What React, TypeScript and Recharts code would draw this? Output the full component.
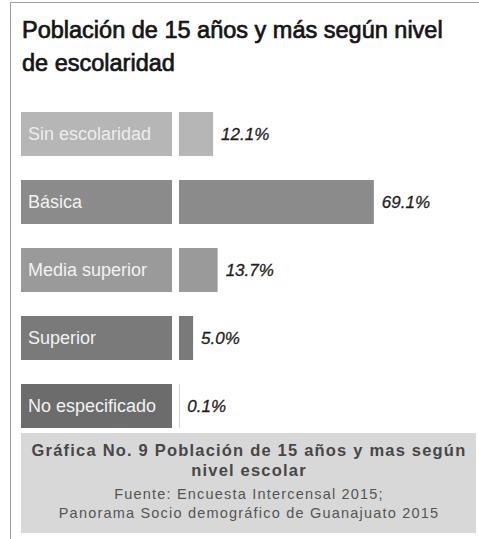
import React from 'react';
import { BarChart, Bar, XAxis, YAxis, Cell, LabelList } from 'recharts';

const categories = ['Sin escolaridad', 'Básica', 'Media superior', 'Superior', 'No especificado'];
const values = [12.1, 69.1, 13.7, 5.0, 0.1];
const colors = ['#b6b6b6', '#8b8b8b', '#9a9a9a', '#7a7a7a', '#6c6c6c'];
const textColors = ['#ededed', '#f2f2f2', '#f2f2f2', '#f2f2f2', '#f2f2f2'];

const titleLines = ['Población de 15 años y más según nivel', 'de escolaridad'];
const captionBold = ['Gráfica No. 9 Población de 15 años y mas según', 'nivel escolar'];
const captionSmall = ['Fuente: Encuesta Intercensal  2015;', 'Panorama Socio demográfico de Guanajuato  2015'];

const data = categories.map((c, i) => ({ name: c, value: values[i], idx: i }));

const FONT = '"Liberation Sans", Arial, sans-serif';
const BOX_W = 151;
const BAR_H = 44;

const CategoryTick = (props: any) => {
  const { x, y, payload } = props;
  const i = payload.index ?? categories.indexOf(payload.value);
  return (
    <g>
      <rect x={x - BOX_W} y={y - BAR_H / 2} width={BOX_W} height={BAR_H} fill={colors[i]} />
      <text
        x={x - BOX_W + 7}
        y={y}
        dy={6}
        fontSize={18}
        fontFamily={FONT}
        fill={textColors[i]}
      >
        {payload.value}
      </text>
    </g>
  );
};

const ValueLabel = (props: any) => {
  const { x, y, width, height, value } = props;
  return (
    <text
      x={x + width + 8}
      y={y + height / 2}
      dy={6}
      fontSize={17}
      fontStyle="italic"
      fontFamily={FONT}
      fill="#1e1e1e"
      stroke="#1e1e1e"
      strokeWidth={0.3}
    >
      {`${Number(value).toFixed(1)}%`}
    </text>
  );
};

export default function App() {
  return (
    <div style={{ position: 'absolute', left: 0, top: 0, width: 479, height: 539, background: '#fff' }}>
      <svg width={479} height={539} style={{ position: 'absolute', left: 0, top: 0 }}>
        <line x1={10} y1={2.5} x2={479} y2={2.5} stroke="#a0a0a0" strokeWidth={1} />
        <line x1={10.5} y1={2} x2={10.5} y2={539} stroke="#a0a0a0" strokeWidth={1} />
        {titleLines.map((t, i) => (
          <text
            key={t}
            x={22}
            y={38 + i * 33}
            fontSize={23.5}
            fontFamily={FONT}
            fill="#151515"
            stroke="#151515"
            strokeWidth={0.7}
          >
            {t}
          </text>
        ))}
        <rect x={21} y={433} width={455} height={100} fill="#d8d8d8" />
        {captionBold.map((t, i) => (
          <text
            key={t}
            x={249}
            y={456 + i * 20}
            textAnchor="middle"
            fontSize={16.5}
            fontWeight="bold"
            letterSpacing={1.2}
            fontFamily={FONT}
            fill="#474747"
          >
            {t}
          </text>
        ))}
        {captionSmall.map((t, i) => (
          <text
            key={t}
            x={249}
            y={499 + i * 19}
            textAnchor="middle"
            fontSize={14.5}
            letterSpacing={1.2}
            fontFamily={FONT}
            fill="#555"
          >
            {t}
          </text>
        ))}
      </svg>
      <div style={{ position: 'absolute', left: 0, top: 100 }}>
        <BarChart
          width={479}
          height={340}
          data={data}
          layout="vertical"
          margin={{ top: 0, right: 18, bottom: 0, left: 21 }}
        >
          <XAxis type="number" domain={[0, 100]} hide />
          <YAxis
            type="category"
            dataKey="name"
            width={158}
            axisLine={false}
            tickLine={false}
            tickSize={0}
            tickMargin={7}
            tick={<CategoryTick />}
            interval={0}
          />
          <Bar dataKey="value" barSize={BAR_H} isAnimationActive={false}>
            {data.map((d, i) => (
              <Cell key={d.name} fill={colors[i]} />
            ))}
            <LabelList dataKey="value" content={<ValueLabel />} />
          </Bar>
        </BarChart>
      </div>
    </div>
  );
}
